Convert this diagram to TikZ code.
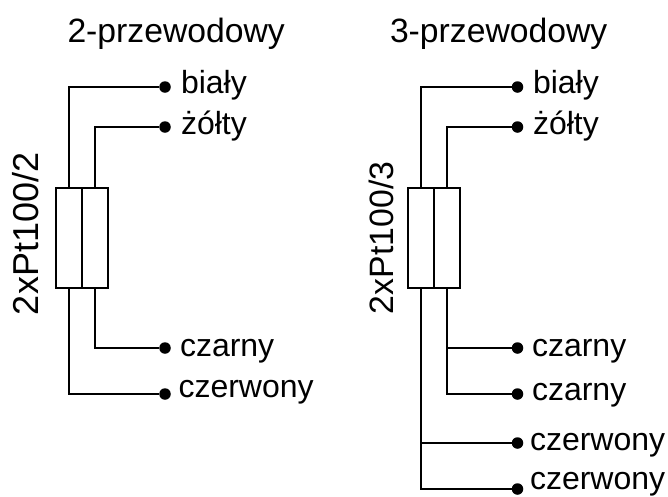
\documentclass[tikz,border=0pt]{standalone}
\usepackage{fontspec}
\setmainfont{Liberation Sans}
\begin{document}
\begin{tikzpicture}[x=1pt,y=-1pt,line width=2.1pt,
  cell/.style={draw,rectangle,minimum width=26pt,minimum height=100pt,inner sep=0pt,outer sep=0pt,line width=1.9pt},
  dot/.style={circle,fill=black,draw=none,minimum size=11.5pt,inner sep=0pt,outer sep=0pt},
  lab/.style={anchor=base west,inner sep=0pt,outer sep=0pt,font=\fontsize{32}{36}\selectfont},
  ttl/.style={anchor=base west,inner sep=0pt,outer sep=0pt,font=\fontsize{33.7}{38}\selectfont},
  vert/.style={anchor=base west,inner sep=0pt,outer sep=0pt,rotate=90}]
\useasboundingbox (0,0) rectangle (668,496);
% left
\node[ttl] (t1) at (67.5,42.7) {2-przewodowy};
\node[vert,font=\fontsize{36}{40}\selectfont] (v1) at (38.7,315) {2xPt100/2};
\node[cell] (a1) at (69,238) {};
\node[cell] (b1) at (95,238) {};
\node[dot] (d1) at (165,87) {};
\node[dot] (d2) at (165,127) {};
\node[dot] (d3) at (165,348) {};
\node[dot] (d4) at (165,394) {};
\draw (a1.north) |- (d1);
\draw (b1.north) |- (d2);
\draw (b1.south) |- (d3);
\draw (a1.south) |- (d4);
\node[lab] (l1) at (181,93.5) {biały};
\node[lab] (l2) at (181,134) {żółty};
\node[lab] (l3) at (180,356) {czarny};
\node[lab] (l4) at (178.5,397) {czerwony};
% right
\node[ttl] (t2) at (390,42.7) {3-przewodowy};
\node[vert,font=\fontsize{33.8}{38}\selectfont] (v2) at (393,314) {2xPt100/3};
\node[cell] (a2) at (421,238) {};
\node[cell] (b2) at (447,238) {};
\node[dot] (e1) at (517.5,87) {};
\node[dot] (e2) at (517.5,127) {};
\node[dot] (e3) at (517.5,348) {};
\node[dot] (e4) at (517.5,394) {};
\node[dot] (e5) at (517.5,443) {};
\node[dot] (e6) at (517.5,489) {};
\draw (a2.north) |- (e1);
\draw (b2.north) |- (e2);
\draw (b2.south) |- (e3);
\draw (b2.south) |- (e4);
\draw (a2.south) |- (e5);
\draw (a2.south) |- (e6);
\node[lab] (m1) at (533,93.5) {biały};
\node[lab] (m2) at (533,134) {żółty};
\node[lab] (m3) at (532,356) {czarny};
\node[lab] (m4) at (532,400.5) {czarny};
\node[lab] (m5) at (530,450) {czerwony};
\node[lab] (m6) at (530,489) {czerwony};
\end{tikzpicture}
\end{document}
